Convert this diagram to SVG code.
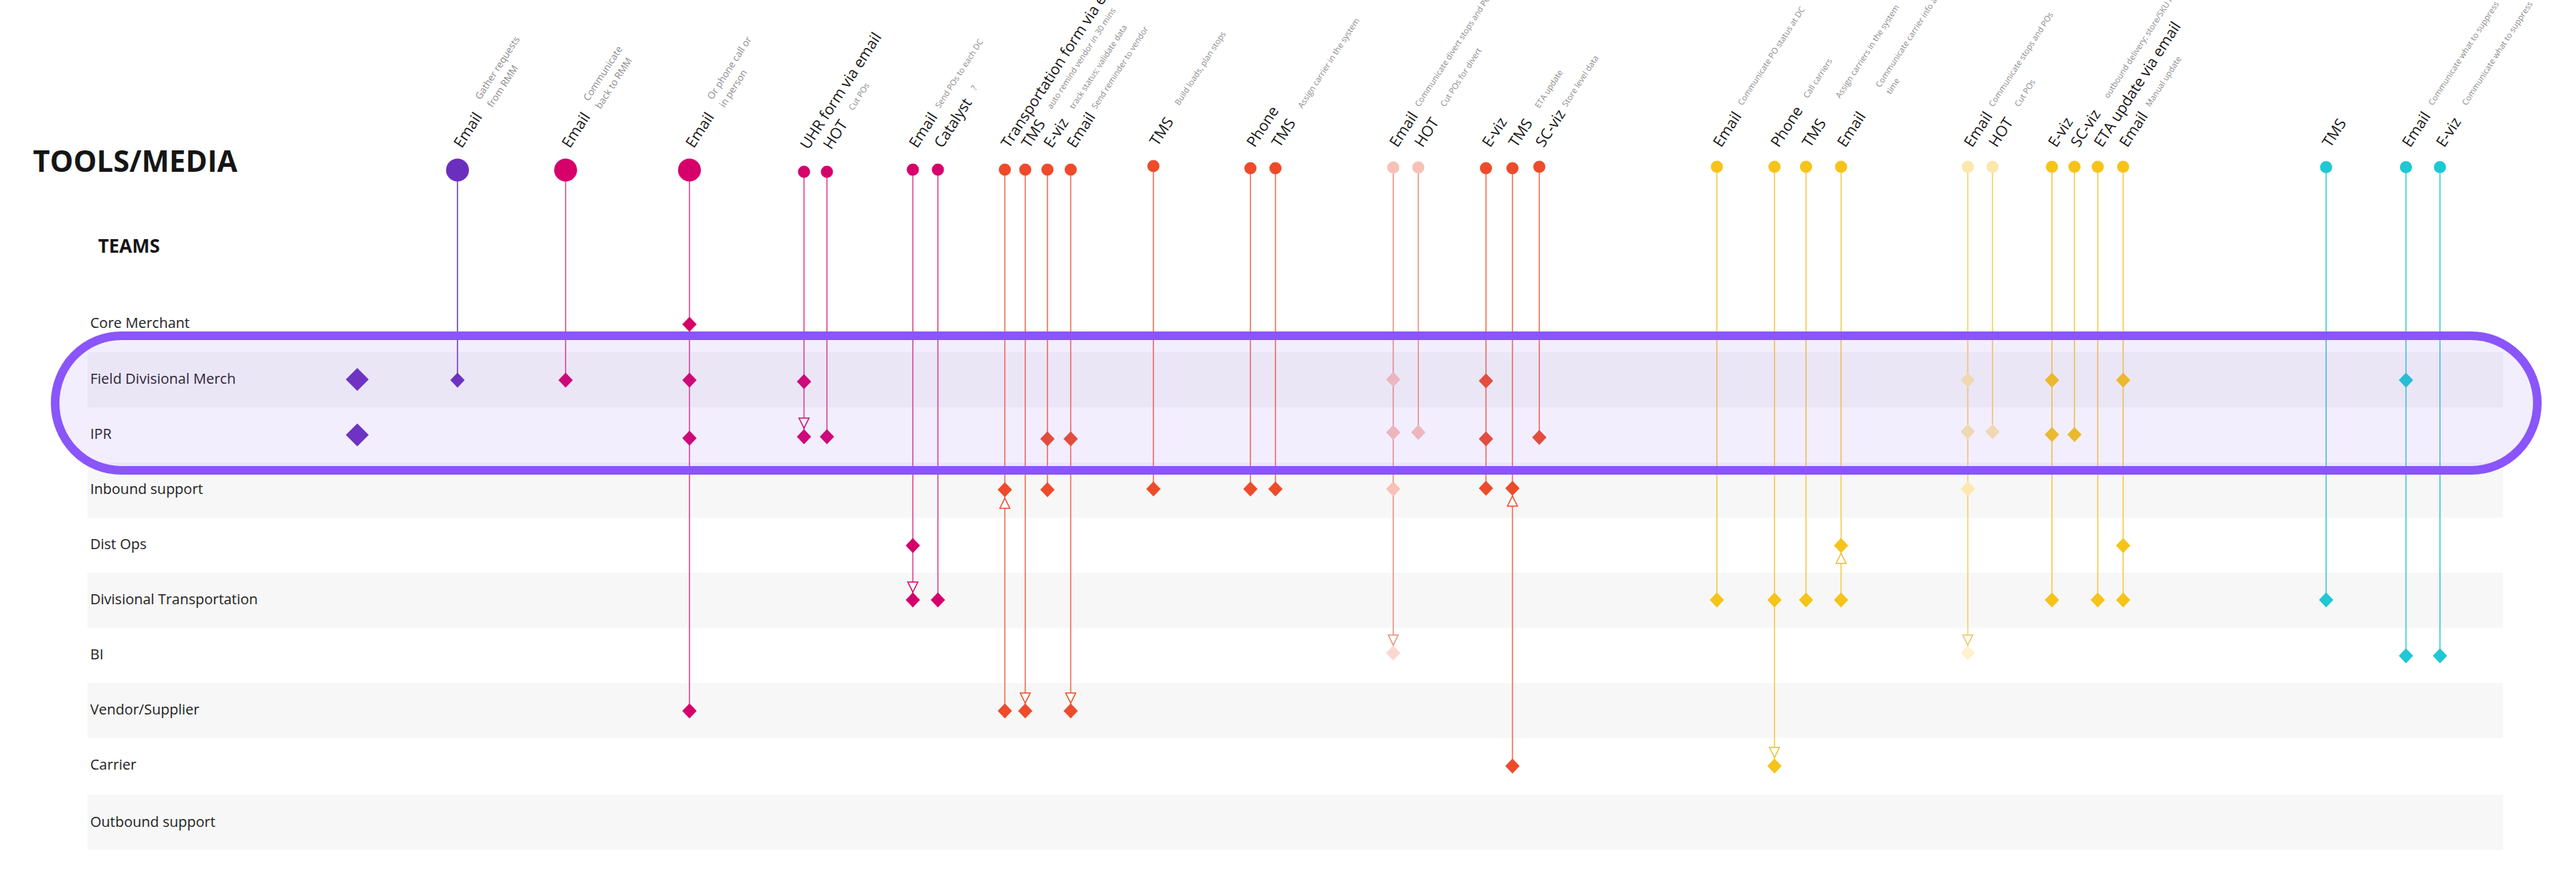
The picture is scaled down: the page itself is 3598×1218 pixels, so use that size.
<svg xmlns="http://www.w3.org/2000/svg" width="3598" height="1218" viewBox="0 0 3598 1218">
<defs>
<style>
text{font-family:"Open Sans","Noto Sans","Liberation Sans",sans-serif}
.title{font-size:41px;font-weight:700;fill:#151515}
.teams{font-size:26px;font-weight:700;fill:#151515}
.row{font-size:20px;fill:#222}
.band{fill:#f7f7f7}
.lbl{font-size:21px;fill:#151515}
.note{font-size:11.5px;fill:#8c8c8c}
.noteL{font-size:13.5px;fill:#8c8c8c}
.ln{fill:none;stroke-width:1.5}
.lP{stroke:#6b2fbd}.lM{stroke:#dc3d8a}.lR{stroke:#f06548}.lLP{stroke:#ec8a7d}.lY{stroke:#f3c640}.lLY{stroke:#f4cd5a}.lT{stroke:#35c6d4}
.fP{fill:#6b2fbd}.fM{fill:#d6006b}.fR{fill:#ee4b2b}.fLP{fill:#f7c1b8}.fLPb{fill:#fad8d0}.fY{fill:#f6c418}.fLY{fill:#fce7ac}.fLYb{fill:#fdf2cf}.fT{fill:#1ec8d4}
.ar{fill:#fff;stroke-width:1.5}
.aM{stroke:#d6006b}.aR{stroke:#ee4b2b}.aLP{stroke:#e8907f}.aY{stroke:#e9bf3a}.aLY{stroke:#e8c560}
</style>
<path id="dm" d="M0,-10.5L10,0L0,10.5L-10,0Z"/>
<path id="dmL" d="M0,-16L16,0L0,16L-16,0Z"/>
<path id="ad" d="M-7,-14H7L0,0Z"/>
<path id="au" d="M-7,14H7L0,0Z"/>
</defs>
<rect width="3598" height="1218" fill="#fff"/>
<text class="title" x="46" y="240">TOOLS/MEDIA</text>
<text class="teams" x="137" y="353">TEAMS</text>

<g id="teams">
<g id="team-core-merchant"><text class="row" x="126" y="458">Core Merchant</text></g>
<g id="team-field-divisional-merch"><rect class="band" x="122" y="492" width="3374" height="77"/><text class="row" x="126" y="536">Field Divisional Merch</text></g>
<g id="team-ipr"><text class="row" x="126" y="613">IPR</text></g>
<g id="team-inbound-support"><rect class="band" x="122" y="646" width="3374" height="77"/><text class="row" x="126" y="690">Inbound support</text></g>
<g id="team-dist-ops"><text class="row" x="126" y="767">Dist Ops</text></g>
<g id="team-divisional-transportation"><rect class="band" x="122" y="800" width="3374" height="77"/><text class="row" x="126" y="844">Divisional Transportation</text></g>
<g id="team-bi"><text class="row" x="126" y="921">BI</text></g>
<g id="team-vendor-supplier"><rect class="band" x="122" y="954" width="3374" height="77"/><text class="row" x="126" y="998">Vendor/Supplier</text></g>
<g id="team-carrier"><text class="row" x="126" y="1075">Carrier</text></g>
<g id="team-outbound-support"><rect class="band" x="122" y="1110" width="3374" height="77"/><text class="row" x="126" y="1155">Outbound support</text></g>
</g>

<g id="connectors">
<line class="ln lP" x1="639" y1="253" x2="639" y2="531"/>
<line class="ln lM" x1="790" y1="253" x2="790" y2="531"/>
<line class="ln lM" x1="963" y1="253" x2="963" y2="993"/>
<line class="ln lM" x1="1123" y1="248" x2="1123" y2="610"/>
<line class="ln lM" x1="1155" y1="248" x2="1155" y2="610"/>
<line class="ln lM" x1="1275" y1="245" x2="1275" y2="838"/>
<line class="ln lM" x1="1310" y1="245" x2="1310" y2="838"/>
<line class="ln lR" x1="1403.5" y1="245" x2="1403.5" y2="993"/>
<line class="ln lR" x1="1432" y1="245" x2="1432" y2="993"/>
<line class="ln lR" x1="1463" y1="245" x2="1463" y2="684"/>
<line class="ln lR" x1="1495.5" y1="245" x2="1495.5" y2="993"/>
<line class="ln lR" x1="1611" y1="240" x2="1611" y2="683"/>
<line class="ln lR" x1="1746.5" y1="243" x2="1746.5" y2="683"/>
<line class="ln lR" x1="1781.5" y1="243" x2="1781.5" y2="683"/>
<line class="ln lLP" x1="1946" y1="242" x2="1946" y2="912"/>
<line class="ln lLP" x1="1981" y1="242" x2="1981" y2="604"/>
<line class="ln lR" x1="2075.5" y1="243" x2="2075.5" y2="682"/>
<line class="ln lR" x1="2112.5" y1="243" x2="2112.5" y2="1070"/>
<line class="ln lR" x1="2150" y1="241" x2="2150" y2="611"/>
<line class="ln lY" x1="2398" y1="241" x2="2398" y2="838"/>
<line class="ln lY" x1="2478.5" y1="241" x2="2478.5" y2="1070"/>
<line class="ln lY" x1="2522.5" y1="241" x2="2522.5" y2="838"/>
<line class="ln lY" x1="2571.5" y1="241" x2="2571.5" y2="838"/>
<line class="ln lLY" x1="2748.5" y1="241" x2="2748.5" y2="912"/>
<line class="ln lLY" x1="2783" y1="241" x2="2783" y2="603"/>
<line class="ln lY" x1="2866" y1="241" x2="2866" y2="838"/>
<line class="ln lY" x1="2897.5" y1="241" x2="2897.5" y2="607"/>
<line class="ln lY" x1="2930" y1="241" x2="2930" y2="838"/>
<line class="ln lY" x1="2965.5" y1="241" x2="2965.5" y2="838"/>
<line class="ln lT" x1="3249" y1="242" x2="3249" y2="838"/>
<line class="ln lT" x1="3360.5" y1="242" x2="3360.5" y2="916"/>
<line class="ln lT" x1="3408" y1="242" x2="3408" y2="916"/>
<use href="#ad" class="ar aM" x="1123" y="598"/>
<use href="#ad" class="ar aM" x="1275" y="827"/>
<use href="#au" class="ar aR" x="1403.5" y="696"/>
<use href="#ad" class="ar aR" x="1432" y="982"/>
<use href="#ad" class="ar aR" x="1495.5" y="982"/>
<use href="#ad" class="ar aLP" x="1946" y="901"/>
<use href="#au" class="ar aR" x="2112.5" y="693"/>
<use href="#ad" class="ar aY" x="2478.5" y="1058"/>
<use href="#au" class="ar aY" x="2571.5" y="773"/>
<use href="#ad" class="ar aLY" x="2748.5" y="901"/>
</g>

<g id="team-markers">
<use href="#dmL" class="fP" x="499" y="530"/>
<use href="#dmL" class="fP" x="499" y="607.5"/>
</g>

<g id="col-01"><circle class="fP" cx="639" cy="237.5" r="16"/><use href="#dm" class="fP" x="639" y="531"/>
<text class="lbl" transform="translate(645,208) rotate(-57)">Email</text>
<text class="noteL" transform="translate(671,140) rotate(-57)"><tspan x="0" y="0">Gather requests</tspan><tspan x="0" y="20">from RMM</tspan></text></g>

<g id="col-02"><circle class="fM" cx="790" cy="237.5" r="16"/><use href="#dm" class="fM" x="790" y="531"/>
<text class="lbl" transform="translate(796,208) rotate(-57)">Email</text>
<text class="noteL" transform="translate(822,142) rotate(-57)"><tspan x="0" y="0">Communicate</tspan><tspan x="0" y="20">back to RMM</tspan></text></g>

<g id="col-03"><circle class="fM" cx="963" cy="237.5" r="16"/>
<use href="#dm" class="fM" x="963" y="453"/><use href="#dm" class="fM" x="963" y="531"/><use href="#dm" class="fM" x="963" y="612"/><use href="#dm" class="fM" x="963" y="993"/>
<text class="lbl" transform="translate(969,208) rotate(-57)">Email</text>
<text class="noteL" transform="translate(995,140) rotate(-57)"><tspan x="0" y="0">Or phone call or</tspan><tspan x="0" y="20">in person</tspan></text></g>

<g id="col-04"><circle class="fM" cx="1123" cy="240" r="8.5"/><use href="#dm" class="fM" x="1123" y="533"/><use href="#dm" class="fM" x="1123" y="610"/>
<text class="lbl" transform="translate(1129,210) rotate(-57)">UHR form via email</text></g>

<g id="col-05"><circle class="fM" cx="1155" cy="240" r="8.5"/><use href="#dm" class="fM" x="1155" y="610"/>
<text class="lbl" transform="translate(1161,210) rotate(-57)">HOT</text>
<text class="note" transform="translate(1191.5,155) rotate(-57)">Cut POs</text></g>

<g id="col-06"><circle class="fM" cx="1275" cy="237" r="8.5"/><use href="#dm" class="fM" x="1275" y="762"/><use href="#dm" class="fM" x="1275" y="838"/>
<text class="lbl" transform="translate(1281,208) rotate(-57)">Email</text>
<text class="note" transform="translate(1312.5,152) rotate(-57)">Send POs to each DC</text></g>

<g id="col-07"><circle class="fM" cx="1310" cy="237" r="8.5"/><use href="#dm" class="fM" x="1310" y="838"/>
<text class="lbl" transform="translate(1316,208) rotate(-57)">Catalyst</text>
<text class="note" transform="translate(1362.5,127) rotate(-57)">?</text></g>

<g id="col-08"><circle class="fR" cx="1403.5" cy="237" r="8.5"/><use href="#dm" class="fR" x="1403.5" y="684"/><use href="#dm" class="fR" x="1403.5" y="993"/>
<text class="lbl" transform="translate(1409.5,208) rotate(-57)">Transportation form via email</text></g>

<g id="col-09"><circle class="fR" cx="1432" cy="237" r="8.5"/><use href="#dm" class="fR" x="1432" y="993"/>
<text class="lbl" transform="translate(1438,208) rotate(-57)">TMS</text>
<text class="note" transform="translate(1468.75,153) rotate(-57)">auto remind vendor in 30 mins</text></g>

<g id="col-10"><circle class="fR" cx="1463" cy="237" r="8.5"/><use href="#dm" class="fR" x="1463" y="613"/><use href="#dm" class="fR" x="1463" y="684"/>
<text class="lbl" transform="translate(1469,208) rotate(-57)">E-viz</text>
<text class="note" transform="translate(1500,153) rotate(-57)">track status; validate data</text></g>

<g id="col-11"><circle class="fR" cx="1495.5" cy="237" r="8.5"/><use href="#dm" class="fR" x="1495.5" y="613"/><use href="#dm" class="fR" x="1495.5" y="993"/>
<text class="lbl" transform="translate(1501.5,208) rotate(-57)">Email</text>
<text class="note" transform="translate(1531,153) rotate(-57)">Send reminder to vendor</text></g>

<g id="col-12"><circle class="fR" cx="1611" cy="232" r="8.5"/><use href="#dm" class="fR" x="1611" y="683"/>
<text class="lbl" transform="translate(1617,205) rotate(-57)">TMS</text>
<text class="note" transform="translate(1647,148) rotate(-57)">Build loads, plan stops</text></g>

<g id="col-13"><circle class="fR" cx="1746.5" cy="235" r="8.5"/><use href="#dm" class="fR" x="1746.5" y="683"/>
<text class="lbl" transform="translate(1752.5,207) rotate(-57)">Phone</text></g>

<g id="col-14"><circle class="fR" cx="1781.5" cy="235" r="8.5"/><use href="#dm" class="fR" x="1781.5" y="683"/>
<text class="lbl" transform="translate(1787.5,207) rotate(-57)">TMS</text>
<text class="note" transform="translate(1819,152) rotate(-57)">Assign carrier in the system</text></g>

<g id="col-15"><circle class="fLP" cx="1946" cy="234" r="8.5"/>
<use href="#dm" class="fLP" x="1946" y="530"/><use href="#dm" class="fLP" x="1946" y="604"/><use href="#dm" class="fLP" x="1946" y="683"/><use href="#dm" class="fLPb" x="1946" y="912"/>
<text class="lbl" transform="translate(1952,207) rotate(-57)">Email</text>
<text class="note" transform="translate(1982.6,150) rotate(-57)">Communicate divert stops and POs</text></g>

<g id="col-16"><circle class="fLP" cx="1981" cy="234" r="8.5"/><use href="#dm" class="fLP" x="1981" y="604"/>
<text class="lbl" transform="translate(1987,207) rotate(-57)">HOT</text>
<text class="note" transform="translate(2018,150) rotate(-57)">Cut POs for divert</text></g>

<g id="col-17"><circle class="fR" cx="2075.5" cy="235" r="8.5"/>
<use href="#dm" class="fR" x="2075.5" y="532"/><use href="#dm" class="fR" x="2075.5" y="613"/><use href="#dm" class="fR" x="2075.5" y="682"/>
<text class="lbl" transform="translate(2081.5,207) rotate(-57)">E-viz</text></g>

<g id="col-18"><circle class="fR" cx="2112.5" cy="235" r="8.5"/><use href="#dm" class="fR" x="2112.5" y="682"/><use href="#dm" class="fR" x="2112.5" y="1070"/>
<text class="lbl" transform="translate(2118.5,207) rotate(-57)">TMS</text>
<text class="note" transform="translate(2150,152) rotate(-57)">ETA update</text></g>

<g id="col-19"><circle class="fR" cx="2150" cy="233" r="8.5"/><use href="#dm" class="fR" x="2150" y="611"/>
<text class="lbl" transform="translate(2156,207) rotate(-57)">SC-viz</text>
<text class="note" transform="translate(2188,150) rotate(-57)">Store level data</text></g>

<g id="col-20"><circle class="fY" cx="2398" cy="233" r="8.5"/><use href="#dm" class="fY" x="2398" y="838"/>
<text class="lbl" transform="translate(2404,207) rotate(-57)">Email</text>
<text class="note" transform="translate(2433.5,148) rotate(-57)">Communicate PO status at DC</text></g>

<g id="col-21"><circle class="fY" cx="2478.5" cy="233" r="8.5"/><use href="#dm" class="fY" x="2478.5" y="838"/><use href="#dm" class="fY" x="2478.5" y="1070"/>
<text class="lbl" transform="translate(2484.5,207) rotate(-57)">Phone</text>
<text class="note" transform="translate(2525,138) rotate(-57)">Call carriers</text></g>

<g id="col-22"><circle class="fY" cx="2522.5" cy="233" r="8.5"/><use href="#dm" class="fY" x="2522.5" y="838"/>
<text class="lbl" transform="translate(2528.5,207) rotate(-57)">TMS</text>
<text class="note" transform="translate(2570,138) rotate(-57)">Assign carriers in the system</text></g>

<g id="col-23"><circle class="fY" cx="2571.5" cy="233" r="8.5"/><use href="#dm" class="fY" x="2571.5" y="762"/><use href="#dm" class="fY" x="2571.5" y="838"/>
<text class="lbl" transform="translate(2577.5,207) rotate(-57)">Email</text>
<text class="note" transform="translate(2626,123) rotate(-57)"><tspan x="0" y="0">Communicate carrier info and arrival</tspan><tspan x="0" y="17.5">time</tspan></text></g>

<g id="col-24"><circle class="fLY" cx="2748.5" cy="233" r="8.5"/>
<use href="#dm" class="fLY" x="2748.5" y="531"/><use href="#dm" class="fLY" x="2748.5" y="603"/><use href="#dm" class="fLY" x="2748.5" y="683"/><use href="#dm" class="fLYb" x="2748.5" y="912"/>
<text class="lbl" transform="translate(2754.5,207) rotate(-57)">Email</text>
<text class="note" transform="translate(2784,150) rotate(-57)">Communicate stops and POs</text></g>

<g id="col-25"><circle class="fLY" cx="2783" cy="233" r="8.5"/><use href="#dm" class="fLY" x="2783" y="603"/>
<text class="lbl" transform="translate(2789,207) rotate(-57)">HOT</text>
<text class="note" transform="translate(2820,150) rotate(-57)">Cut POs</text></g>

<g id="col-26"><circle class="fY" cx="2866" cy="233" r="8.5"/>
<use href="#dm" class="fY" x="2866" y="531"/><use href="#dm" class="fY" x="2866" y="607"/><use href="#dm" class="fY" x="2866" y="838"/>
<text class="lbl" transform="translate(2872,207) rotate(-57)">E-viz</text></g>

<g id="col-27"><circle class="fY" cx="2897.5" cy="233" r="8.5"/><use href="#dm" class="fY" x="2897.5" y="607"/>
<text class="lbl" transform="translate(2903.5,207) rotate(-57)">SC-viz</text>
<text class="note" transform="translate(2945,138) rotate(-57)">outbound delivery; store/SKU level</text></g>

<g id="col-28"><circle class="fY" cx="2930" cy="233" r="8.5"/><use href="#dm" class="fY" x="2930" y="838"/>
<text class="lbl" transform="translate(2936,207) rotate(-57)">ETA update via email</text></g>

<g id="col-29"><circle class="fY" cx="2965.5" cy="233" r="8.5"/>
<use href="#dm" class="fY" x="2965.5" y="531"/><use href="#dm" class="fY" x="2965.5" y="762"/><use href="#dm" class="fY" x="2965.5" y="838"/>
<text class="lbl" transform="translate(2971.5,207) rotate(-57)">Email</text>
<text class="note" transform="translate(3003,150) rotate(-57)">Manual update</text></g>

<g id="col-30"><circle class="fT" cx="3249" cy="233.5" r="8.5"/><use href="#dm" class="fT" x="3249" y="838"/>
<text class="lbl" transform="translate(3255,207) rotate(-57)">TMS</text></g>

<g id="col-31"><circle class="fT" cx="3360.5" cy="233.5" r="8.5"/><use href="#dm" class="fT" x="3360.5" y="531"/><use href="#dm" class="fT" x="3360.5" y="916"/>
<text class="lbl" transform="translate(3366.5,207) rotate(-57)">Email</text>
<text class="note" transform="translate(3398,148) rotate(-57)">Communicate what to suppress</text></g>

<g id="col-32"><circle class="fT" cx="3408" cy="233.5" r="8.5"/><use href="#dm" class="fT" x="3408" y="916"/>
<text class="lbl" transform="translate(3414,207) rotate(-57)">E-viz</text>
<text class="note" transform="translate(3445,148) rotate(-57)">Communicate what to suppress</text></g>

<g id="highlight">
<rect x="77" y="469" width="3467" height="188" rx="92" ry="94" fill="#8a55fa" fill-opacity="0.1" stroke="#8a55fa" stroke-width="12"/>
</g>
</svg>
